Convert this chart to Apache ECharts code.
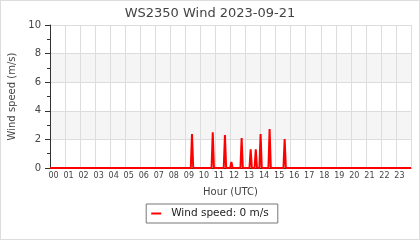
<!DOCTYPE html>
<html>
<head>
<meta charset="utf-8">
<script src="https://cdn.jsdelivr.net/npm/echarts@6/dist/echarts.min.js"></script>
<style>
html,body{margin:0;padding:0;background:#fff;}
#wrap{position:relative;width:420px;height:240px;}
#chart{position:absolute;left:0;top:0;width:420px;height:240px;}
#frame{position:absolute;left:0;top:0;width:420px;height:240px;box-sizing:border-box;border:1px solid #ddd;pointer-events:none;}
</style>
</head>
<body>
<div id="wrap"><div id="chart"></div><div id="frame"></div></div>
<script>
// Sample times (hours UTC) and wind speeds (m/s)
const hours = [0,
  9.36, 9.44, 9.52,
  10.74, 10.82, 10.90,
  11.55, 11.63, 11.71,
  11.98, 12.06, 12.14,
  12.66, 12.74, 12.82,
  13.26, 13.34, 13.42,
  13.60, 13.68, 13.76,
  13.92, 14.00, 14.08,
  14.52, 14.60, 14.68,
  15.52, 15.60, 15.68,
  24];
const speeds = [0,
  0, 2.37, 0,
  0, 2.50, 0,
  0, 2.30, 0,
  0, 0.42, 0,
  0, 2.09, 0,
  0, 1.31, 0,
  0, 1.31, 0,
  0, 2.37, 0,
  0, 2.72, 0,
  0, 2.02, 0,
  0];
const hourLabels = ['00','01','02','03','04','05','06','07','08','09','10','11','12','13','14','15','16','17','18','19','20','21','22','23'];
const yTicks = [0, 2, 4, 6, 8, 10];

const chart = echarts.init(document.getElementById('chart'), null, {renderer: 'canvas'});
const font = 'DejaVu Sans';
const lastVal = speeds[speeds.length - 1];
chart.setOption({
  animation: false,
  textStyle: {fontFamily: font},
  title: {
    text: 'WS2350 Wind 2023-09-21',
    left: 'center',
    top: 2,
    textStyle: {fontFamily: font, fontSize: 13, fontWeight: 'normal', color: '#444'}
  },
  grid: {left: 50, right: 9, top: 25, bottom: 72, containLabel: false, outerBoundsMode: 'none'},
  legend: {
    data: ['Wind speed'],
    left: 'center',
    top: 204,
    borderColor: '#777',
    borderWidth: 1,
    borderRadius: 0,
    padding: [4, 9, 4, 5],
    itemWidth: 10,
    itemHeight: 2,
    icon: 'rect',
    formatter: () => 'Wind speed: ' + lastVal + ' m/s',
    textStyle: {fontFamily: font, fontSize: 10.5, color: '#222', padding: [0, 0, 0, 5]}
  },
  xAxis: {
    type: 'value',
    min: 0,
    max: 24,
    interval: 1,
    name: 'Hour (UTC)',
    nameLocation: 'middle',
    nameGap: 19,
    nameTextStyle: {fontFamily: font, fontSize: 10, color: '#444'},
    axisLine: {show: true, lineStyle: {color: '#333', width: 1}},
    axisTick: {show: false},
    axisLabel: {
      fontFamily: font, fontSize: 8, color: '#444', margin: 4,
      padding: [0, 0, 0, 7],
      showMaxLabel: false,
      formatter: v => (v < 24 ? hourLabels[v] : '')
    },
    splitLine: {show: true, lineStyle: {color: '#ddd', width: 1}}
  },
  yAxis: {
    type: 'value',
    min: yTicks[0],
    max: yTicks[yTicks.length - 1],
    interval: 2,
    name: 'Wind speed (m/s)',
    nameLocation: 'middle',
    nameGap: 31,
    nameTextStyle: {fontFamily: font, fontSize: 10, color: '#444'},
    axisLine: {show: true, lineStyle: {color: '#333', width: 1}},
    axisTick: {show: true, length: 5, lineStyle: {color: '#333'}},
    minorTick: {show: true, splitNumber: 2, length: 3, lineStyle: {color: '#333'}},
    axisLabel: {fontFamily: font, fontSize: 10, color: '#444', margin: 9},
    splitLine: {show: true, lineStyle: {color: '#ddd', width: 1}},
    splitArea: {show: true, areaStyle: {color: ['#ffffff', '#f5f5f5']}}
  },
  series: [{
    name: 'Wind speed',
    type: 'line',
    data: hours.map((h, i) => [h, speeds[i]]),
    symbol: 'none',
    lineStyle: {color: '#ff0000', width: 2},
    itemStyle: {color: '#ff0000'},
    z: 5
  }]
});
</script>
</body>
</html>
